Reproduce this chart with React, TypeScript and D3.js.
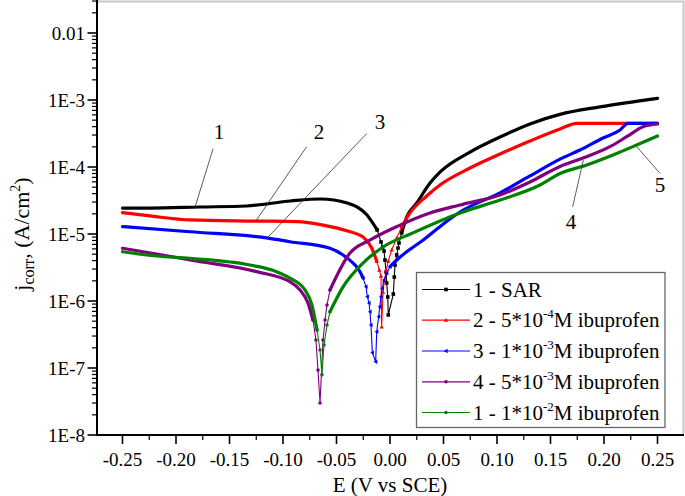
import React from "react";
import * as d3 from "d3";

const W = 685;
const H = 496;

// [E (V vs SCE), j (A/cm2)]
const sarData: [number, number][] = [
  [-0.25, 2.44e-5], [-0.224, 2.44e-5], [-0.178, 2.53e-5], [-0.134, 2.62e-5], [-0.093, 3.11e-5],
  [-0.065, 3.33e-5], [-0.04, 2.9e-5], [-0.0215, 1.92e-5], [-0.012, 1.15e-5],
  [-0.0084, 7.6e-6], [-0.0068, 6.4e-6], [-0.0056, 5.57e-6], [-0.0047, 4.09e-6], [-0.0037, 2.71e-6],
  [-0.0031, 1.86e-6], [-0.0021, 1.15e-6], [-0.0016, 6.2e-7], [0.0031, 1.27e-6], [0.004, 2.28e-6],
  [0.0047, 3.44e-6], [0.0063, 4.86e-6], [0.0075, 6.18e-6], [0.0084, 7.35e-6],
  [0.0109, 1.04e-5], [0.0156, 1.79e-5], [0.025, 2.9e-5], [0.0374, 5.77e-5], [0.0467, 8.4e-5],
  [0.0748, 1.67e-4], [0.1028, 2.8e-4], [0.1308, 4.4e-4], [0.1589, 6.1e-4], [0.1963, 7.9e-4],
  [0.25, 1.06e-3],
];
const ibu5e4Data: [number, number][] = [
  [-0.25, 2.08e-5], [-0.2243, 1.86e-5], [-0.187, 1.62e-5], [-0.1246, 1.56e-5], [-0.0872, 1.53e-5],
  [-0.0626, 1.36e-5], [-0.0405, 1.12e-5], [-0.0252, 9.0e-6], [-0.0171, 6.18e-6], [-0.0124, 3.95e-6],
  [-0.01, 2.9e-6], [-0.0084, 2.36e-6], [-0.0078, 4.1e-7], [-0.0065, 1.36e-6], [-0.0053, 1.99e-6],
  [-0.0037, 2.8e-6], [-0.0016, 3.95e-6], [0.0016, 5.77e-6], [0.0063, 8.7e-6], [0.0109, 1.27e-5],
  [0.0187, 2.06e-5], [0.0343, 3.69e-5], [0.0467, 5.38e-5], [0.0748, 9.66e-5], [0.1028, 1.56e-4],
  [0.1308, 2.44e-4], [0.1589, 3.69e-4], [0.1745, 4.49e-4], [0.25, 4.49e-4],
];
const ibu1e3Data: [number, number][] = [
  [-0.25, 1.29e-5], [-0.187, 1.08e-5], [-0.114, 8.7e-6], [-0.0935, 7.67e-6], [-0.0561, 6.12e-6],
  [-0.0439, 4.86e-6], [-0.0346, 3.69e-6], [-0.028, 2.74e-6], [-0.0252, 2.2e-6],
  [-0.0224, 1.63e-6], [-0.0212, 1.16e-6], [-0.0196, 9.3e-7], [-0.0187, 6.9e-7], [-0.0178, 4.38e-7],
  [-0.0165, 1.69e-7], [-0.0134, 1.24e-7], [-0.0124, 3.48e-7], [-0.0106, 5.83e-7], [-0.0096, 8.2e-7],
  [-0.0084, 1.16e-6], [-0.0072, 1.55e-6], [-0.0056, 2.06e-6], [-0.0031, 2.59e-6],
  [0.0, 3.25e-6], [0.0063, 4.09e-6], [0.0156, 5.44e-6], [0.0311, 8.13e-6], [0.0498, 1.41e-5],
  [0.0654, 2.13e-5], [0.1028, 4.1e-5], [0.1308, 7.35e-5], [0.1589, 1.31e-4], [0.1776, 1.79e-4],
  [0.1991, 2.71e-4], [0.215, 3.56e-4], [0.2224, 4.49e-4], [0.25, 4.49e-4],
];
const ibu5e3Data: [number, number][] = [
  [-0.25, 6.12e-6], [-0.218, 5.03e-6], [-0.187, 4.09e-6], [-0.1246, 2.74e-6], [-0.0935, 1.94e-6],
  [-0.0841, 1.46e-6], [-0.0766, 9.3e-7], [-0.072, 5.2e-7],
  [-0.0692, 2.62e-7], [-0.0673, 9.3e-8], [-0.0654, 3.0e-8], [-0.0626, 2.62e-7], [-0.0607, 5.2e-7],
  [-0.0589, 8.7e-7],
  [-0.0561, 1.46e-6], [-0.0374, 5.2e-6], [-0.0187, 8.13e-6], [0.0063, 1.29e-5], [0.0374, 2.06e-5],
  [0.0654, 2.71e-5], [0.1028, 3.82e-5], [0.1308, 5.97e-5], [0.1589, 1.02e-4], [0.1804, 1.36e-4],
  [0.2056, 2.01e-4], [0.2212, 2.83e-4], [0.2364, 3.98e-4], [0.25, 4.38e-4],
];
const ibu1e2Data: [number, number][] = [
  [-0.25, 5.44e-6], [-0.218, 4.7e-6], [-0.187, 4.33e-6], [-0.1308, 3.44e-6], [-0.1059, 2.74e-6],
  [-0.0935, 2.2e-6], [-0.0794, 1.46e-6], [-0.0729, 8.7e-7], [-0.0682, 3.69e-7],
  [-0.0654, 1.86e-7], [-0.0636, 7.9e-8], [-0.0617, 2.2e-7], [-0.0589, 4.38e-7],
  [-0.0561, 6.9e-7], [-0.0439, 1.62e-6], [-0.0252, 3.69e-6], [-0.0065, 6.4e-6], [0.0215, 1.04e-5],
  [0.0654, 2.06e-5], [0.1028, 3.21e-5], [0.1402, 5.38e-5], [0.1589, 8.0e-5], [0.1838, 1.07e-4],
  [0.2084, 1.51e-4], [0.2306, 2.13e-4], [0.25, 2.9e-4],
];

const seriesNames = ["1 - SAR", "2 - 5*10", "3 - 1*10", "4 - 5*10", "1 - 1*10"];
const seriesExp = ["", "-4", "-3", "-3", "-2"];
const seriesColors = ["#000000", "#ff0000", "#0000ff", "#800080", "#008000"];
const seriesMarkers = ["square", "triangle", "triangleLeft", "circle", "circle"];
const seriesData = [sarData, ibu5e4Data, ibu1e3Data, ibu5e3Data, ibu1e2Data];
// E range (first and last sparse point) where measured points are drawn individually
const cuspRanges: [number, number][] = [
  [-0.012, 0.0109], [-0.0124, 0.0109], [-0.0252, 0.0], [-0.072, -0.0561], [-0.0682, -0.0561],
];

const xTicks = [-0.25, -0.2, -0.15, -0.1, -0.05, 0, 0.05, 0.1, 0.15, 0.2, 0.25];
const yTicks = [1e-8, 1e-7, 1e-6, 1e-5, 1e-4, 1e-3, 1e-2];
const yTickLabels = ["1E-8", "1E-7", "1E-6", "1E-5", "1E-4", "1E-3", "0.01"];

// callout labels: [text, labelE, labelJ, lineE1, lineJ1, lineE2, lineJ2]
const callouts: [string, number, number, number, number, number, number][] = [
  ["1", -0.1598, 3.33e-4, -0.1654, 1.86e-4, -0.1822, 2.53e-5],
  ["2", -0.0664, 3.33e-4, -0.0779, 2.01e-4, -0.1252, 1.58e-5],
  ["3", -0.0093, 4.7e-4, -0.0218, 3.16e-4, -0.114, 9.0e-6],
  ["4", 0.1692, 1.51e-5, 0.1707, 2.55e-5, 0.1807, 1.27e-4],
  ["5", 0.2523, 5.38e-5, 0.2523, 8.05e-5, 0.2306, 2.01e-4],
];

const FONT = "'Liberation Serif', 'Times New Roman', 'DejaVu Serif', serif";

function Marker({ type, cx, cy, color, s }: { type: string; cx: number; cy: number; color: string; s: number }) {
  if (type === "square") return <rect x={cx - s / 2} y={cy - s / 2} width={s} height={s} fill={color} />;
  if (type === "triangle")
    return <path d={`M${cx},${cy - s * 0.6}L${cx + s * 0.6},${cy + s * 0.45}L${cx - s * 0.6},${cy + s * 0.45}Z`} fill={color} />;
  if (type === "triangleLeft")
    return <path d={`M${cx - s * 0.6},${cy}L${cx + s * 0.45},${cy - s * 0.6}L${cx + s * 0.45},${cy + s * 0.6}Z`} fill={color} />;
  return <circle cx={cx} cy={cy} r={s / 2} fill={color} />;
}

export default function App() {
  const x = d3.scaleLinear().domain([-0.25, 0.25]).range([122.5, 657.5]);
  const y = d3.scaleLog().domain([1e-8, 1e-2]).range([435, 33]);
  const axisLeft = 97;
  const axisBottom = 435;
  const axisRight = 684;

  const thick = d3.line<[number, number]>().x((d) => x(d[0])).y((d) => y(d[1])).curve(d3.curveMonotoneX);
  const thin = d3.line<[number, number]>().x((d) => x(d[0])).y((d) => y(d[1]));

  const minorX: number[] = [];
  for (let i = 0; i < xTicks.length - 1; i++) minorX.push((xTicks[i] + xTicks[i + 1]) / 2);
  const minorY: number[] = [];
  for (let e = -8; e <= -2; e++) for (let k = 2; k <= 9; k++) {
    const v = k * Math.pow(10, e);
    if (y(v) >= 0) minorY.push(v);
  }

  const legendRows = [289.5, 320.2, 351, 381.8, 412.5];

  return (
    <svg width={W} height={H} style={{ position: "absolute", left: 0, top: 0, background: "#fff", fontFamily: FONT }}>
      {/* frame */}
      <path d={`M${axisLeft},1.5H683.5V${axisBottom}`} fill="none" stroke="#c8c8c8" strokeWidth={2} />

      {/* series */}
      {seriesData.map((data, si) => {
        const [c0, c1] = cuspRanges[si];
        const cath = data.filter((d) => d[0] <= c0 + 1e-9);
        const anod = data.filter((d) => d[0] >= c1 - 1e-9);
        const cusp = data.filter((d) => d[0] >= c0 - 1e-9 && d[0] <= c1 + 1e-9);
        const col = seriesColors[si];
        return (
          <g key={si}>
            <path d={thin(cusp) || ""} fill="none" stroke={col} strokeWidth={1.1} />
            <path d={thick(cath) || ""} fill="none" stroke={col} strokeWidth={3.2} strokeLinejoin="round" strokeLinecap="round" />
            <path d={thick(anod) || ""} fill="none" stroke={col} strokeWidth={3.2} strokeLinejoin="round" strokeLinecap="round" />
            {cusp.map((d, i) => (
              <Marker key={i} type={seriesMarkers[si]} cx={x(d[0])} cy={y(d[1])} color={col} s={3.6} />
            ))}
          </g>
        );
      })}

      {/* callouts */}
      {callouts.map((c, i) => (
        <g key={i}>
          <line x1={x(c[3])} y1={y(c[4])} x2={x(c[5])} y2={y(c[6])} stroke="#333" strokeWidth={0.8} />
          <text x={x(c[1])} y={y(c[2])} fontSize={21} textAnchor="middle" dominantBaseline="central">{c[0]}</text>
        </g>
      ))}

      {/* axes */}
      <line x1={axisLeft} y1={0} x2={axisLeft} y2={axisBottom + 1} stroke="#000" strokeWidth={2} />
      <line x1={axisLeft - 1} y1={axisBottom} x2={axisRight} y2={axisBottom} stroke="#000" strokeWidth={2} />
      {yTicks.map((t, i) => (
        <g key={"yt" + i}>
          <line x1={axisLeft - 9.5} x2={axisLeft} y1={y(t)} y2={y(t)} stroke="#000" strokeWidth={1.6} />
          <text x={85} y={y(t)} dy="0.35em" fontSize={19} textAnchor="end">{yTickLabels[i]}</text>
        </g>
      ))}
      {minorY.map((t, i) => (
        <line key={"ym" + i} x1={axisLeft - 5} x2={axisLeft} y1={y(t)} y2={y(t)} stroke="#000" strokeWidth={1.2} />
      ))}
      {xTicks.map((t, i) => (
        <g key={"xt" + i}>
          <line x1={x(t)} x2={x(t)} y1={axisBottom} y2={axisBottom + 9} stroke="#000" strokeWidth={1.6} />
          <text x={x(t)} y={466} fontSize={19} textAnchor="middle">{t.toFixed(2)}</text>
        </g>
      ))}
      {minorX.map((t, i) => (
        <line key={"xm" + i} x1={x(t)} x2={x(t)} y1={axisBottom} y2={axisBottom + 5} stroke="#000" strokeWidth={1.2} />
      ))}

      {/* axis titles */}
      <text x={390} y={492} fontSize={21} textAnchor="middle">E (V vs SCE)</text>
      <text transform="translate(29,234) rotate(-90)" fontSize={22} textAnchor="middle">
        j<tspan fontSize={16} dy={5}>corr</tspan><tspan dy={-5}>, (A/cm</tspan>
        <tspan fontSize={14} dy={-9}>2</tspan><tspan dy={9}>)</tspan>
      </text>

      {/* legend */}
      <rect x={416.5} y={272.5} width={248.5} height={155} fill="#fff" stroke="#666" strokeWidth={1.3} />
      {seriesNames.map((n, i) => (
        <g key={"lg" + i}>
          <line x1={422} x2={470} y1={legendRows[i]} y2={legendRows[i]} stroke={seriesColors[i]} strokeWidth={1.2} />
          <Marker type={seriesMarkers[i]} cx={446} cy={legendRows[i]} color={seriesColors[i]} s={3.6} />
          <text x={473} y={legendRows[i] + 7} fontSize={21}>
            {n}
            {seriesExp[i] && (
              <>
                <tspan fontSize={13} dy={-9}>{seriesExp[i]}</tspan>
                <tspan dy={9}>M ibuprofen</tspan>
              </>
            )}
          </text>
        </g>
      ))}
    </svg>
  );
}
